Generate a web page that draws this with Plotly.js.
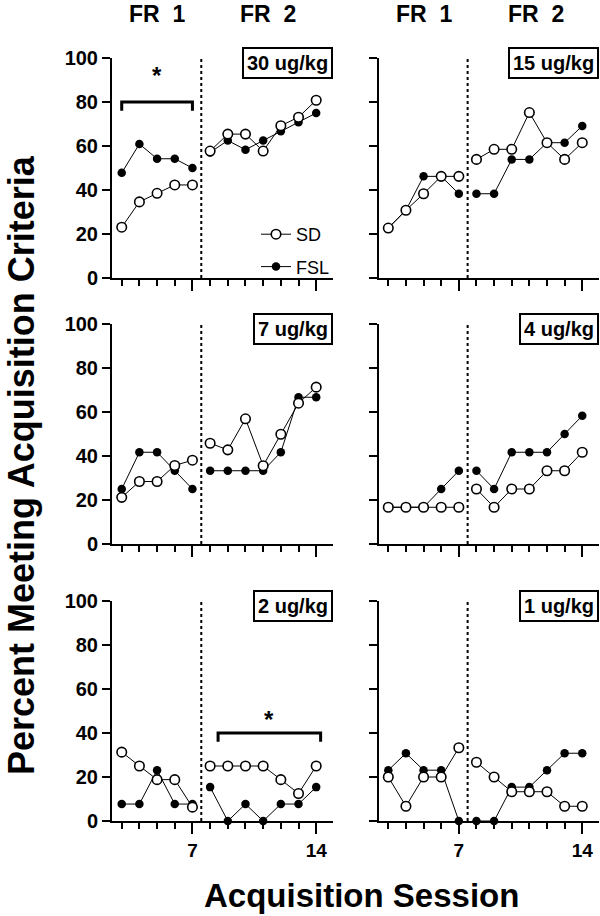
<!DOCTYPE html>
<html>
<head>
<meta charset="utf-8">
<script src="https://cdn.plot.ly/plotly-3.0.1.min.js"></script>
<style>html,body{margin:0;padding:0;background:#fff;}#chart{width:600px;height:916px;}</style>
</head>
<body>
<div id="chart"></div>
<script>
// ---------- DATA ----------
const sessions = [3, 4, 5, 6, 7, 8, 9, 10, 11, 12, 13, 14];
const fr1Count = 5; // sessions 3-7 are FR 1, 8-14 are FR 2
const phaseLabels = ["FR\u00a0\u00a01", "FR\u00a0\u00a02"];
const doseLabels = ["30 ug/kg", "15 ug/kg", "7 ug/kg", "4 ug/kg", "2 ug/kg", "1 ug/kg"];
const seriesNames = ["SD", "FSL"];

const sd30  = [23.1, 34.6, 38.5, 42.3, 42.3, 57.7, 65.4, 65.4, 57.7, 69.2, 73.1, 80.8];
const fsl30 = [47.8, 60.9, 54.2, 54.2, 50.0, 57.1, 62.5, 58.3, 62.5, 66.7, 70.8, 75.0];
const sd15  = [22.7, 30.8, 38.3, 46.2, 46.2, 53.9, 58.5, 58.5, 75.2, 61.5, 53.9, 61.5];
const fsl15 = [22.7, 30.8, 46.2, 46.2, 38.3, 38.3, 38.3, 53.9, 53.9, 61.5, 61.5, 69.1];
const sd7   = [21.2, 28.4, 28.4, 35.7, 38.1, 45.8, 42.8, 56.9, 35.6, 49.9, 64.0, 71.3];
const fsl7  = [25.0, 41.7, 41.7, 33.3, 25.0, 33.3, 33.3, 33.3, 33.3, 41.7, 66.7, 66.7];
const sd4   = [16.7, 16.7, 16.7, 16.7, 16.7, 25.0, 16.7, 25.0, 25.0, 33.3, 33.3, 41.7];
const fsl4  = [16.7, 16.7, 16.7, 25.0, 33.3, 33.3, 25.0, 41.7, 41.7, 41.7, 50.0, 58.3];
const sd2   = [31.3, 25.0, 18.8, 18.8, 6.3, 25.0, 25.0, 25.0, 25.0, 18.8, 12.5, 25.0];
const fsl2  = [7.7, 7.7, 23.1, 7.7, 7.7, 15.4, 0, 7.7, 0, 7.7, 7.7, 15.4];
const sd1   = [20.0, 6.7, 20.0, 20.0, 33.3, 26.7, 20.0, 13.3, 13.3, 13.3, 6.7, 6.7];
const fsl1  = [23.1, 30.8, 23.1, 23.1, 0, 0, 0, 15.4, 15.4, 23.1, 30.8, 30.8];

const sdSeries  = [sd30, sd15, sd7, sd4, sd2, sd1];
const fslSeries = [fsl30, fsl15, fsl7, fsl4, fsl2, fsl1];

const yTickVals = [0, 20, 40, 60, 80, 100];
const xTickVals = [7, 14];
const xTickText = ["7", "14"];
const phaseBoundary = 7.5;

// significance brackets: panel index, x extent, bar level, tip drop, star position
const sigPanels = [0, 4];
const sigX0 = [3, 8.45];
const sigX1 = [7, 14.25];
const sigLevel = [80, 40];
const sigTip = [4, 4];
const sigStarX = [5, 11.35];
const sigStarY = [92, 46];

// ---------- LAYOUT GEOMETRY ----------
const W = 600, H = 916;
const colPx = [[112, 333], [378.6, 599]];
const rowPx = [[58, 278], [324, 544], [601, 821]];
const FONT = "Liberation Sans, Arial, Helvetica, sans-serif";

const traces = [];
const layout = {
  width: W, height: H,
  margin: {l: 0, r: 0, t: 0, b: 0},
  paper_bgcolor: "white", plot_bgcolor: "white",
  font: {family: FONT, color: "black"},
  showlegend: true,
  legend: {
    x: 256 / W, y: 1 - 216 / H, xanchor: "left", yanchor: "top",
    bgcolor: "rgba(0,0,0,0)", font: {family: FONT, size: 18, color: "black"},
    tracegroupgap: 6, itemclick: false, itemdoubleclick: false
  },
  shapes: [], annotations: []
};

function split(arr) { return [arr.slice(0, fr1Count), arr.slice(fr1Count)]; }

for (let p = 0; p < 6; p++) {
  const row = Math.floor(p / 2), col = p % 2;
  const n = p === 0 ? "" : String(p + 1);
  const xa = "x" + n, ya = "y" + n;
  const bottom = row === 2, left = col === 0;

  layout["xaxis" + n] = {
    domain: [colPx[col][0] / W, colPx[col][1] / W],
    range: [2.45, 14.95], anchor: ya,
    showline: true, linewidth: 2, linecolor: "black",
    showgrid: false, zeroline: false,
    ticks: "outside", ticklen: 11, tickwidth: 2, tickcolor: "black",
    tickmode: "array", tickvals: xTickVals, ticktext: xTickText,
    showticklabels: bottom,
    tickfont: {family: FONT, size: 19, weight: "bold", color: "black"},
    minor: {ticks: "outside", ticklen: 6, tickwidth: 2, tickcolor: "black",
            tickmode: "array", tickvals: sessions, showgrid: false},
    fixedrange: true
  };
  layout["yaxis" + n] = {
    domain: [1 - rowPx[row][1] / H, 1 - rowPx[row][0] / H],
    range: [0, 100], anchor: xa,
    showline: true, linewidth: 2, linecolor: "black",
    showgrid: false, zeroline: false,
    ticks: "outside", ticklen: 8, tickwidth: 2, tickcolor: "black",
    tickmode: "array", tickvals: yTickVals,
    showticklabels: left,
    tickfont: {family: FONT, size: 20, weight: "bold", color: "black"},
    fixedrange: true
  };

  // phase boundary dotted line
  layout.shapes.push({type: "line", xref: xa, yref: ya, x0: phaseBoundary, x1: phaseBoundary,
    y0: 0, y1: 100, line: {color: "black", width: 2, dash: "dot"}});

  // dose box
  layout.annotations.push({xref: xa + " domain", yref: ya + " domain", x: 1, y: 1.05,
    xanchor: "right", yanchor: "top", text: "<b>" + doseLabels[p] + "</b>", showarrow: false,
    font: {family: FONT, size: 20, color: "black"},
    bordercolor: "black", borderwidth: 2, borderpad: 3, bgcolor: "white"});

  const xs = split(sessions);
  const series = [[fslSeries[p], 1], [sdSeries[p], 0]]; // FSL drawn first, SD on top
  for (const [vals, si] of series) {
    const ys = split(vals);
    for (let ph = 0; ph < 2; ph++) {
      const isSD = si === 0;
      traces.push({
        type: "scatter", mode: "lines+markers",
        x: xs[ph], y: ys[ph], xaxis: xa, yaxis: ya,
        name: seriesNames[si], legendgroup: seriesNames[si], legendrank: si + 1,
        showlegend: p === 0 && ph === 0,
        cliponaxis: false,
        line: {color: "black", width: 1},
        marker: isSD
          ? {symbol: "circle", size: 9.5, color: "white", line: {color: "black", width: 1.6}}
          : {symbol: "circle", size: 8.5, color: "black", line: {color: "black", width: 0}},
        hoverinfo: "skip"
      });
    }
  }
}

// significance brackets
for (let i = 0; i < sigPanels.length; i++) {
  const p = sigPanels[i];
  const n = p === 0 ? "" : String(p + 1);
  const xa = "x" + n, ya = "y" + n;
  layout.shapes.push({type: "path", xref: xa, yref: ya,
    path: `M ${sigX0[i]} ${sigLevel[i] - sigTip[i]} L ${sigX0[i]} ${sigLevel[i]} L ${sigX1[i]} ${sigLevel[i]} L ${sigX1[i]} ${sigLevel[i] - sigTip[i]}`,
    line: {color: "black", width: 3}});
  layout.annotations.push({xref: xa, yref: ya, x: sigStarX[i], y: sigStarY[i],
    xanchor: "center", yanchor: "middle", text: "<b>*</b>", showarrow: false,
    font: {family: FONT, size: 24, color: "black"}});
}

// phase headers
for (let col = 0; col < 2; col++) {
  const xa = col === 0 ? "x" : "x2";
  const centers = col === 0 ? [5, 11.3] : [5, 11.4];
  for (let ph = 0; ph < 2; ph++) {
    layout.annotations.push({xref: xa, yref: "paper", x: centers[ph], y: 1,
      xanchor: "center", yanchor: "top", text: "<b>" + phaseLabels[ph] + "</b>", showarrow: false,
      borderpad: 0, font: {family: FONT, size: 23, color: "black"}});
  }
}

// axis titles
layout.annotations.push({xref: "paper", yref: "paper", x: 361 / W, y: 0,
  xanchor: "center", yanchor: "bottom", text: "<b>Acquisition Session</b>", showarrow: false,
  font: {family: FONT, size: 33, color: "black"}});
layout.annotations.push({xref: "paper", yref: "paper", x: 21 / W, y: 1 - 465 / H,
  xanchor: "center", yanchor: "middle", textangle: -90, text: "<b>Percent Meeting Acquisition Criteria</b>",
  showarrow: false, font: {family: FONT, size: 36, color: "black"}});

Plotly.newPlot("chart", traces, layout, {displayModeBar: false, staticPlot: true});
</script>
</body>
</html>
